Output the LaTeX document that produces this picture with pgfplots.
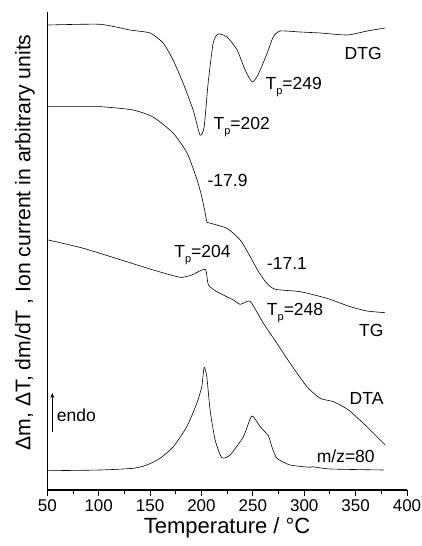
\documentclass[border=0pt]{standalone}
\usepackage{pgfplots}
\pgfplotsset{compat=1.18}
\usepackage{fontspec}
\setmainfont{Liberation Sans}
\usetikzlibrary{arrows.meta}
\newcommand{\Tp}[1]{T\raisebox{-0.45ex}{\fontsize{11}{11}\selectfont p}=#1}
\begin{document}
\begin{tikzpicture}
\useasboundingbox (-47.3pt,-56pt) rectangle (374.7pt,490pt);
\begin{axis}[
  scale only axis, width=359.7pt, height=478pt,
  xmin=50, xmax=400, ymin=0, ymax=478,
  axis x line=bottom, axis y line=left,
  axis line style={-, line width=1.1pt},
  ytick=\empty,
  xtick={50,100,...,400}, minor x tick num=1,
  tick align=outside,
  major tick length=6pt, minor tick length=3.5pt,
  every tick/.style={line width=0.9pt, black},
  /pgf/number format/assume math mode=true,
  ticklabel style={font=\fontsize{17}{19}\selectfont},
  xlabel={Temperature / °C},
  xlabel style={font=\fontsize{22}{24}\selectfont, at={(axis description cs:0.5,-0.09)}, anchor=base},
  ylabel={Δm, ΔT, dm/dT , Ion current in arbitrary units},
  ylabel style={font=\fontsize{21.2}{24}\selectfont, at={(axis description cs:-0.062,0.518)}, anchor=center},
  clip=false,
  cycle list={{black, mark=none}},
  every axis plot post/.append style={black, mark=none, line width=0.6pt, smooth, tension=0.35},
]
% DTG
\addplot coordinates {
(51,465) (101.3,465.7) (130.5,460) (150,457) (162.7,447) (172.4,430) (182.1,407) (191.9,380) (198.6,355)
(202.6,363) (206.5,407) (211.4,447) (216.2,456) (225,453) (234.7,440) (242.5,420) (249.3,408) (255,415)
(264,437) (269.8,453) (276.6,459) (296,458) (315.5,457) (341.8,455) (361.3,459) (378.8,462)};
% TG
\addplot coordinates {
(51,383.3) (101.3,383.3) (133.4,380) (152.9,373) (172.4,357) (186,337) (195.8,310) (200.3,293.3)
(203.6,277) (205.2,268.3) (206.8,267.3) (224.7,261.7) (237.7,250) (247.5,233.3) (255.5,218.3)
(263.6,206.7) (271.8,200.7) (296.1,198.3) (322,191.7) (344.8,183.3) (361,179) (378.8,177.3)};
% DTA
\addplot coordinates {
(51,250) (85.1,241.7) (127.3,228.3) (153.2,220) (179.2,212.7) (190.6,215) (203.6,220.7) (206.8,205)
(215,198.3) (231.1,190) (237.6,185.7) (245.7,189) (249,186.7) (260.3,166.7) (273.4,146.7) (286.3,126.7)
(302.6,103.3) (315.5,91.7) (328.5,88.3) (343.1,80) (361,63.3) (378.8,45)};
% m/z=80
\addplot coordinates {
(51,19.3) (101.3,20) (133.7,21.7) (146.8,25) (159.7,31.7) (172.7,43.3) (185.7,63.3) (195.5,86.7)
(200.3,103.3) (202.6,122.7) (205.2,113.3) (208.4,80) (213.3,50) (219.8,32.3) (227.9,35) (240.8,53.3)
(249,74) (257.1,63.3) (265.2,54) (268.5,43.3) (273.4,31.7) (286.3,25) (305.8,22.7) (308,23.3) (325.4,21) (377.2,20)};
\begin{scope}[font=\fontsize{17.5}{20}\selectfont]
\node[anchor=east] at (axis cs:378.8,437) {DTG};
\node[anchor=west] at (axis cs:259,403) {\Tp{249}};
\node[anchor=west] at (axis cs:208.4,363) {\Tp{202}};
\node[anchor=west] at (axis cs:202.6,310) {-17.9};
\node[anchor=west] at (axis cs:170.2,235) {\Tp{204}};
\node[anchor=west] at (axis cs:260.3,226.7) {-17.1};
\node[anchor=west] at (axis cs:260.3,177) {\Tp{248}};
\node[anchor=east] at (axis cs:380.5,160) {TG};
\node[anchor=east] at (axis cs:380.5,92) {DTA};
\node[anchor=east] at (axis cs:372,33.3) {m/z=80};
\node[anchor=west] at (axis cs:56,75) {endo};
\end{scope}
\draw[-{Stealth[length=5pt,width=4pt]}, line width=0.7pt] (axis cs:54.9,58) -- (axis cs:54.9,97);
\end{axis}
\end{tikzpicture}
\end{document}
